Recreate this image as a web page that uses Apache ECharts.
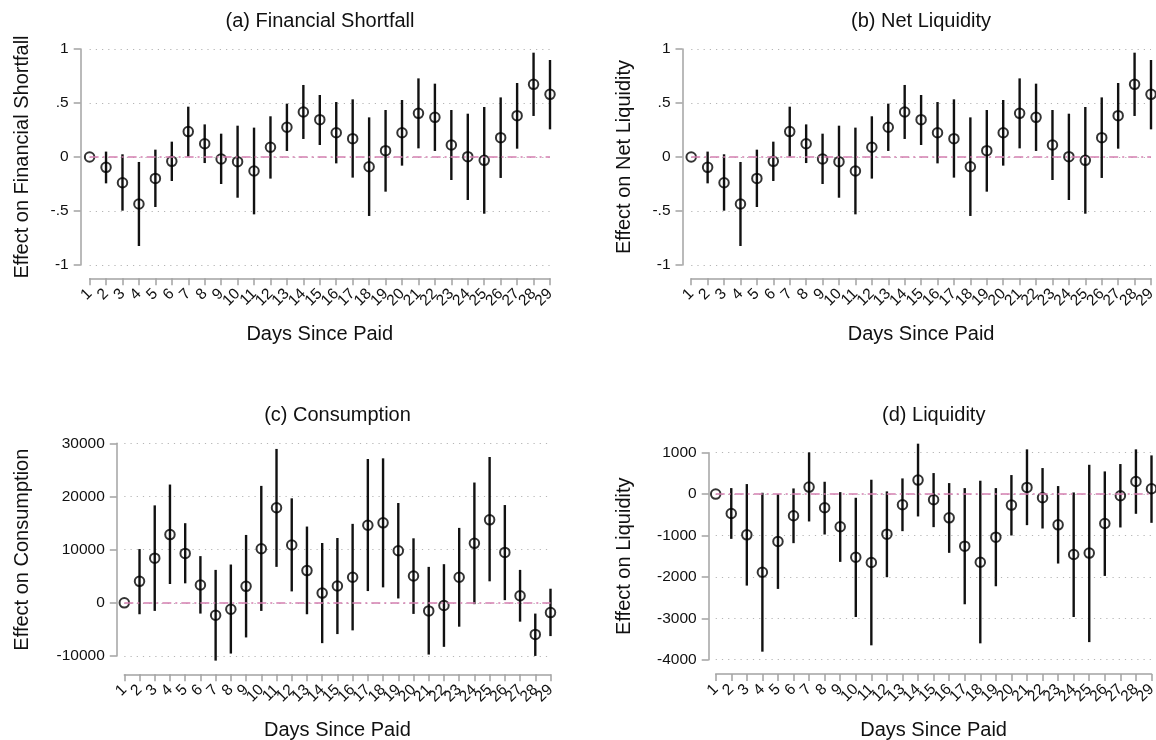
<!DOCTYPE html>
<html>
<head>
<meta charset="utf-8">
<script src="https://cdn.jsdelivr.net/npm/echarts@6/dist/echarts.min.js"></script>
<style>
html,body{margin:0;padding:0;background:#fff;}
#chart{width:1156px;height:740px;}
</style>
</head>
<body>
<div id="chart"></div>
<script>
// ---- Data ----
const days = ['1','2','3','4','5','6','7','8','9','10','11','12','13','14','15','16','17','18','19','20','21','22','23','24','25','26','27','28','29'];

// (a) Financial Shortfall
const shortfallEst = [0,-0.096,-0.238,-0.435,-0.198,-0.04,0.235,0.123,-0.019,-0.043,-0.13,0.09,0.275,0.417,0.346,0.225,0.17,-0.09,0.059,0.225,0.404,0.367,0.111,0.003,-0.031,0.179,0.383,0.673,0.58];
const shortfallLo  = [null,-0.244,-0.497,-0.824,-0.463,-0.222,0.003,-0.056,-0.25,-0.377,-0.531,-0.2,0.056,0.167,0.111,-0.059,-0.191,-0.546,-0.321,-0.08,0.08,0.056,-0.213,-0.398,-0.525,-0.194,0.077,0.38,0.256];
const shortfallHi  = [null,0.05,0.025,-0.046,0.068,0.142,0.466,0.302,0.216,0.29,0.272,0.377,0.494,0.667,0.574,0.509,0.534,0.367,0.435,0.528,0.728,0.679,0.435,0.401,0.463,0.552,0.685,0.966,0.898];

// (b) Net Liquidity
const netLiqEst = [0,-0.096,-0.238,-0.435,-0.198,-0.04,0.235,0.123,-0.019,-0.043,-0.13,0.09,0.275,0.417,0.346,0.225,0.17,-0.09,0.059,0.225,0.404,0.367,0.111,0.003,-0.031,0.179,0.383,0.673,0.58];
const netLiqLo  = [null,-0.244,-0.497,-0.824,-0.463,-0.222,0.003,-0.056,-0.25,-0.377,-0.531,-0.2,0.056,0.167,0.111,-0.059,-0.191,-0.546,-0.321,-0.08,0.08,0.056,-0.213,-0.398,-0.525,-0.194,0.077,0.38,0.256];
const netLiqHi  = [null,0.05,0.025,-0.046,0.068,0.142,0.466,0.302,0.216,0.29,0.272,0.377,0.494,0.667,0.574,0.509,0.534,0.367,0.435,0.528,0.728,0.679,0.435,0.401,0.463,0.552,0.685,0.966,0.898];

// (c) Consumption
const consEst = [0,4044,8404,12828,9289,3349,-2338,-1201,3096,10174,17883,10869,6066,1833,3160,4802,14597,15039,9795,5055,-1517,-506,4802,11185,15608,9479,1327,-5940,-1833];
const consLo  = [null,-2148,-1517,3539,3665,-2022,-10869,-9542,-6509,-1517,6761,2148,-2148,-7583,-5877,-5182,2212,2907,821,-2085,-9731,-8278,-4487,-253,4044,506,-3539,-9984,-6256];
const consHi  = [null,10110,18326,22243,14976,8784,6193,7204,12765,21990,28941,19652,14344,11248,12196,14850,27046,27172,18768,12133,6761,7267,14091,22622,27425,18389,6193,-2022,2654];

// (d) Liquidity
const liqEst = [0,-468,-984,-1887,-1145,-524,169,-331,-790,-1524,-1653,-968,-258,339,-137,-573,-1258,-1645,-1040,-266,161,-89,-742,-1460,-1425,-710,-40,304,129];
const liqLo  = [null,-1081,-2210,-3806,-2290,-1185,-661,-976,-1637,-2968,-3653,-2008,-895,-540,-798,-1419,-2661,-3605,-2226,-1000,-750,-831,-1677,-2968,-3575,-1976,-806,-476,-694];
const liqHi  = [null,145,242,32,0,137,1008,298,48,-89,347,65,379,1218,508,266,145,323,145,460,1081,629,194,40,708,548,726,1081,935];

// ---- Styling / layout ----
const FONT = "'Liberation Sans', Arial, Helvetica, sans-serif";
const AXIS_COLOR = '#a3a3a3';
const TEXT_COLOR = '#111';

const panels = [
  {title:'(a) Financial Shortfall', yName:'Effect on Financial Shortfall', est:shortfallEst, lo:shortfallLo, hi:shortfallHi,
   min:-1, max:1, interval:0.5, grid:{left:89.6, top:49, width:460.4, height:216}, xOff:13.3, yOff:8.9, yGap:48, titleX:320, titleY:11},
  {title:'(b) Net Liquidity', yName:'Effect on Net Liquidity', est:netLiqEst, lo:netLiqLo, hi:netLiqHi,
   min:-1, max:1, interval:0.5, grid:{left:691.2, top:49, width:459.8, height:216}, xOff:13.3, yOff:8.7, yGap:48, titleX:921, titleY:11},
  {title:'(c) Consumption', yName:'Effect on Consumption', est:consEst, lo:consLo, hi:consHi,
   min:-10000, max:30000, interval:10000, grid:{left:124.3, top:443.3, width:426.2, height:212.7}, xOff:18.3, yOff:7.5, yGap:84, titleX:337.5, titleY:405},
  {title:'(d) Liquidity', yName:'Effect on Liquidity', est:liqEst, lo:liqLo, hi:liqHi,
   min:-4000, max:1000, interval:1000, grid:{left:715.7, top:452.7, width:435.8, height:207}, xOff:14.3, yOff:7, yGap:74, titleX:933.7, titleY:405}
];

function fmtTick(v){
  if (Math.abs(v) < 1 && v !== 0) {
    return String(v).replace('0.', '.');
  }
  return String(v);
}

const option = {
  backgroundColor:'#fff',
  animation:false,
  textStyle:{fontFamily:FONT},
  title: panels.map(p => ({
    text:p.title, left:p.titleX, top:p.titleY, textAlign:'center', padding:0,
    textStyle:{fontFamily:FONT, fontSize:20, fontWeight:'normal', color:TEXT_COLOR}
  })),
  grid: panels.map(p => Object.assign({containLabel:false, outerBoundsMode:'none'}, p.grid)),
  xAxis: panels.map((p,i) => ({
    type:'category', gridIndex:i, data:days, boundaryGap:false, offset:p.xOff,
    name:'Days Since Paid', nameLocation:'middle', nameGap:46,
    nameTextStyle:{fontFamily:FONT, fontSize:20, color:TEXT_COLOR},
    axisLine:{show:true, onZero:false, lineStyle:{color:AXIS_COLOR, width:1.5}},
    axisTick:{show:true, length:7, interval:0, lineStyle:{color:AXIS_COLOR, width:1.5}},
    axisLabel:{interval:0, rotate:45, margin:13, fontSize:15.5, color:TEXT_COLOR, fontFamily:FONT, hideOverlap:false},
    splitLine:{show:false}
  })),
  yAxis: panels.map((p,i) => ({
    type:'value', gridIndex:i, min:p.min, max:p.max, interval:p.interval, offset:p.yOff,
    name:p.yName, nameLocation:'middle', nameGap:p.yGap,
    nameTextStyle:{fontFamily:FONT, fontSize:20, color:TEXT_COLOR},
    axisLine:{show:true, lineStyle:{color:AXIS_COLOR, width:1.5}},
    axisTick:{show:true, length:7, lineStyle:{color:AXIS_COLOR, width:1.5}},
    axisLabel:{margin:12, fontSize:15.5, color:TEXT_COLOR, fontFamily:FONT, formatter:fmtTick},
    splitLine:{show:true, lineStyle:{color:'#b5b5b5', width:1.2, type:[1.2,5]}}
  })),
  series: []
};

panels.forEach((p,i) => {
  const ciData = [];
  p.lo.forEach((lo, k) => { if (lo !== null) ciData.push([k, lo, p.hi[k]]); });
  option.series.push({
    type:'custom', xAxisIndex:i, yAxisIndex:i, clip:false, silent:true,
    data:ciData,
    renderItem:function(params, api){
      const a = api.coord([api.value(0), api.value(1)]);
      const b = api.coord([api.value(0), api.value(2)]);
      return {type:'line', shape:{x1:a[0], y1:a[1], x2:b[0], y2:b[1]},
              style:{stroke:'#111', lineWidth:2.4}};
    },
    z:2
  });
  option.series.push({
    type:'scatter', xAxisIndex:i, yAxisIndex:i, clip:false, silent:true,
    data:p.est.map((v,k)=>[k, v]),
    symbol:'circle', symbolSize:9.5,
    itemStyle:{color:'rgba(0,0,0,0)', borderColor:'#000', borderWidth:2},
    markLine:{
      silent:true, symbol:'none', label:{show:false},
      lineStyle:{color:'#d47fb0', width:1.6, type:[9,4,2,4]},
      data:[{yAxis:0}]
    },
    z:3
  });
});

const chart = echarts.init(document.getElementById('chart'), null, {renderer:'canvas'});
chart.setOption(option);
</script>
</body>
</html>
